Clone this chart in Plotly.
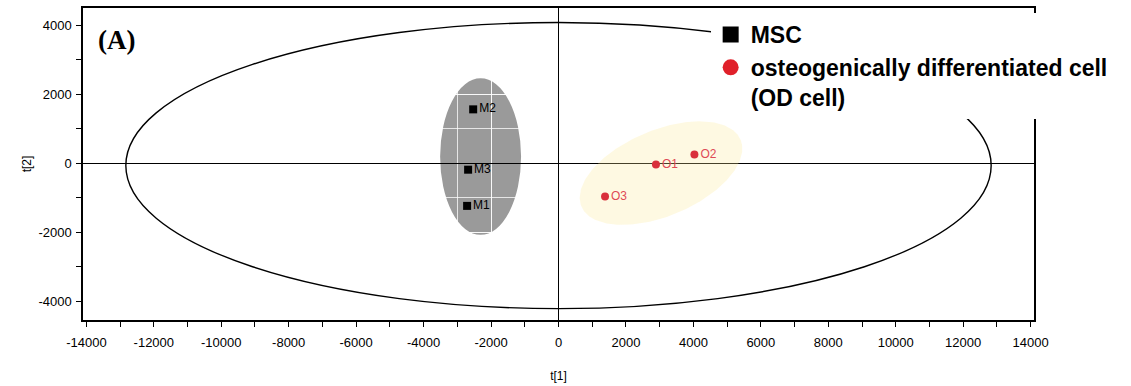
import numpy as np
import plotly.graph_objects as go

# ---- data ----
msc_labels = ["M1", "M2", "M3"]
msc_t1 = [-2710, -2530, -2680]
msc_t2 = [-1240, 1560, -190]

od_labels = ["O1", "O2", "O3"]
od_t1 = [2890, 4030, 1380]
od_t2 = [-40, 250, -970]

# Hotelling T2 ellipse (t1 semi-axis, t2 semi-axis, centre)
t2_ellipse = dict(cx=0, cy=-70, a=12830, b=4150)
# group confidence ellipses
msc_ellipse = dict(cx=-2310, cy=190, a=1200, b=2270)
od_ellipse = dict(cx=3040, cy=-290, a=2550, b=1250, angle_deg=22)

x_ticks = [-14000, -12000, -10000, -8000, -6000, -4000, -2000, 0,
           2000, 4000, 6000, 8000, 10000, 12000, 14000]
x_ticktext = ["-14000", "-12000", "-10000", "-8000", "-6000", "-4000", "-2000", "0",
              "2000", "4000", "6000", "8000", "10000", "12000", "14000"]
y_ticks = [-4000, -2000, 0, 2000, 4000]
y_ticktext = ["-4000", "-2000", "0", "2000", "4000"]

fig = go.Figure()

# OD (yellow) confidence ellipse as filled trace computed from its parameters
th = np.linspace(0, 2 * np.pi, 200)
ang = np.deg2rad(od_ellipse["angle_deg"])
ex = od_ellipse["a"] * np.cos(th)
ey = od_ellipse["b"] * np.sin(th)
fig.add_trace(go.Scatter(
    x=od_ellipse["cx"] + ex * np.cos(ang) - ey * np.sin(ang),
    y=od_ellipse["cy"] + ex * np.sin(ang) + ey * np.cos(ang),
    mode="lines", fill="toself", line=dict(width=0),
    fillcolor="rgba(250,232,150,0.28)", showlegend=False, hoverinfo="skip"))

fig.add_trace(go.Scatter(
    x=msc_t1, y=msc_t2, text=msc_labels, mode="markers+text",
    textposition="middle right",
    marker=dict(symbol="square", size=8, color="black"),
    textfont=dict(family="Liberation Sans", size=12, color="black"),
    showlegend=False))

fig.add_trace(go.Scatter(
    x=od_t1, y=od_t2, text=od_labels, mode="markers+text",
    textposition="middle right",
    marker=dict(symbol="circle", size=8, color="#d9303c"),
    textfont=dict(family="Liberation Sans", size=12, color="#de4a55"),
    showlegend=False))

# legend entries
fig.add_trace(go.Scatter(x=[None], y=[None], mode="markers", name="<b>MSC</b>",
                         marker=dict(symbol="square", size=16, color="black")))
fig.add_trace(go.Scatter(x=[None], y=[None], mode="markers",
                         name="<b>osteogenically differentiated cell<br>(OD cell)</b>",
                         marker=dict(symbol="circle", size=17, color="#e0202a")))

# gray MSC ellipse (below grid so white grid lines show through)
fig.add_shape(type="circle", xref="x", yref="y", layer="below",
              x0=msc_ellipse["cx"] - msc_ellipse["a"], x1=msc_ellipse["cx"] + msc_ellipse["a"],
              y0=msc_ellipse["cy"] - msc_ellipse["b"], y1=msc_ellipse["cy"] + msc_ellipse["b"],
              fillcolor="#9a9a9a", line=dict(width=0))
# Hotelling ellipse
fig.add_shape(type="circle", xref="x", yref="y", layer="above",
              x0=t2_ellipse["cx"] - t2_ellipse["a"], x1=t2_ellipse["cx"] + t2_ellipse["a"],
              y0=t2_ellipse["cy"] - t2_ellipse["b"], y1=t2_ellipse["cy"] + t2_ellipse["b"],
              line=dict(color="black", width=1.4))

fig.add_annotation(text="<b>(A)</b>", xref="paper", yref="paper", x=0.035, y=0.897,
                   xanchor="center", yanchor="middle", showarrow=False,
                   font=dict(family="Liberation Serif", size=27, color="black"))

axis_common = dict(
    automargin=False,
    showline=True, mirror=True, linecolor="black", linewidth=1.5,
    ticks="outside", ticklen=5, tickcolor="black", tickwidth=1.2,
    showgrid=True, gridcolor="rgba(255,255,255,0.75)", gridwidth=1,
    zeroline=True, zerolinecolor="black", zerolinewidth=1.2,
    tickfont=dict(family="Liberation Sans", size=13, color="black"),
    minor=dict(dtick=1000, ticks="outside", ticklen=5, tickcolor="black",
               showgrid=True, gridcolor="rgba(255,255,255,0.75)", gridwidth=1),
)

fig.update_xaxes(range=[-14100, 14100], tickvals=x_ticks, ticktext=x_ticktext,
                 ticklabelstandoff=5,
                 title=dict(text="t[1]", standoff=22,
                            font=dict(family="Liberation Sans", size=12, color="black")),
                 **axis_common)
fig.update_yaxes(range=[-4550, 4500], tickvals=y_ticks, ticktext=y_ticktext,
                 ticklabelstandoff=2,
                 title=dict(text="t[2]", standoff=4,
                            font=dict(family="Liberation Sans", size=12, color="black")),
                 **axis_common)

fig.update_layout(
    width=1131, height=386,
    margin=dict(l=83, r=97, t=8, b=66),
    paper_bgcolor="white", plot_bgcolor="white",
    showlegend=True,
    legend=dict(x=0.66, y=0.984, xanchor="left", yanchor="top",
                bgcolor="white", borderwidth=0, valign="top", itemsizing="trace",
                font=dict(family="Liberation Sans", size=23, color="black"),
                itemwidth=30, tracegroupgap=0),
)

fig.write_html("out.html", config={"displayModeBar": False},
               post_script="document.body.style.margin='0';")
